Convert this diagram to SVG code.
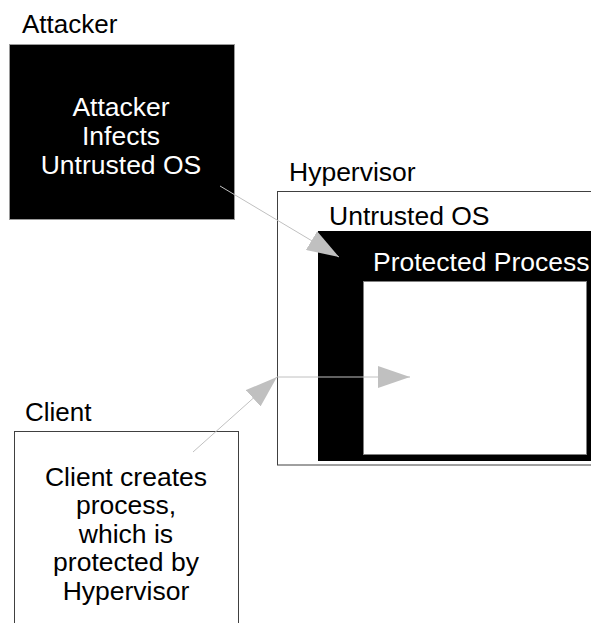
<svg xmlns="http://www.w3.org/2000/svg" width="591" height="623" viewBox="0 0 591 623">
  <style>
    text { font-family: "Liberation Sans", Arial, sans-serif; font-size: 26.5px; }
    .dark { fill: #000000; }
    .light { fill: #ffffff; }
    .mid { text-anchor: middle; }
    .conn { stroke: #c0c0c0; stroke-width: 1; fill: none; }
  </style>
  <defs>
    <marker id="head" markerUnits="userSpaceOnUse" markerWidth="32" markerHeight="22" refX="32" refY="11" orient="auto" viewBox="0 0 32 22">
      <path d="M0,0 L32,11 L0,22 z" fill="#c0c0c0"/>
    </marker>
  </defs>

  <rect width="591" height="623" fill="#ffffff"/>

  <!-- attacker -->
  <g id="attacker">
    <text class="dark" x="22" y="33" style="font-size:26px">Attacker</text>
    <rect x="9.5" y="44.5" width="225" height="175" fill="#000000" stroke="#9a9a9a" stroke-width="1"/>
    <text class="light mid" x="121" y="116">Attacker</text>
    <text class="light mid" x="121" y="145">Infects</text>
    <text class="light mid" x="121" y="174">Untrusted OS</text>
  </g>

  <!-- hypervisor container -->
  <g id="hypervisor">
    <text class="dark" x="289" y="181">Hypervisor</text>
    <rect x="277.5" y="191.5" width="330" height="273.5" fill="#ffffff" stroke="#404040" stroke-width="1"/>
  </g>

  <!-- untrusted OS inside the hypervisor -->
  <g id="untrusted-os">
    <text class="dark" x="329" y="225">Untrusted OS</text>
    <rect x="318" y="231" width="273" height="230" fill="#000000"/>
  </g>

  <!-- protected process inside the OS -->
  <g id="protected-process">
    <text class="light" x="373" y="271">Protected Process</text>
    <rect x="363.5" y="281.5" width="223" height="173" fill="#ffffff" stroke="#808080" stroke-width="1"/>
  </g>

  <!-- client -->
  <g id="client">
    <text class="dark" x="25" y="421" style="font-size:26px">Client</text>
    <rect x="14.5" y="431.5" width="224" height="200" fill="#ffffff" stroke="#404040" stroke-width="1"/>
    <text class="dark mid" x="126" y="485.5">Client creates</text>
    <text class="dark mid" x="126" y="514">process,</text>
    <text class="dark mid" x="126" y="542.5">which is</text>
    <text class="dark mid" x="126" y="571">protected by</text>
    <text class="dark mid" x="126" y="599.5">Hypervisor</text>
  </g>

  <!-- connectors -->
  <g id="connectors">
    <path class="conn" d="M220,186 L339,257" marker-end="url(#head)"/>
    <path class="conn" d="M193,452 L277,377" marker-end="url(#head)"/>
    <path class="conn" d="M277,377 L410,377" marker-end="url(#head)"/>
  </g>
</svg>
